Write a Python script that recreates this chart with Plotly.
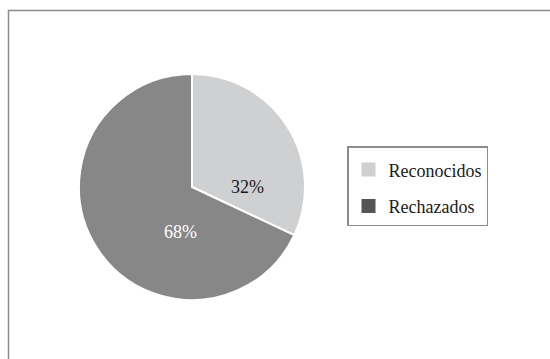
import plotly.graph_objects as go

# Share of claims by outcome
categories = ["Reconocidos", "Rechazados"]
shares = [32, 68]
slice_colors = ["#cfd0d2", "#878787"]
legend_colors = ["#cfd0d2", "#555555"]
label_colors = ["#1a1a1a", "#ffffff"]

W, H = 550, 359
serif = "Liberation Serif"

fig = go.Figure()

fig.add_trace(go.Pie(
    labels=categories,
    values=shares,
    sort=False,
    direction="clockwise",
    rotation=0,
    marker=dict(colors=slice_colors, line=dict(color="white", width=2)),
    textinfo="none",
    hoverinfo="label+percent",
    showlegend=False,
    domain=dict(x=[79 / W, 305 / W], y=[1 - 300 / H, 1 - 74 / H]),
))

# Legend entries with square swatches
for i, (name, col) in enumerate(zip(categories, legend_colors)):
    fig.add_trace(go.Scatter(
        x=[None], y=[None], mode="markers", name=name,
        legendgroup=f"g{i}",
        marker=dict(symbol="square", size=14, color=col),
    ))

# Percentage labels placed inside each slice
label_pos = [(247, 187), (162, 244)]
total = sum(shares)
for v, (px, py), c in zip(shares, label_pos, label_colors):
    fig.add_annotation(
        x=px / W, y=1 - py / H, xref="paper", yref="paper",
        text=f"{round(100 * v / total)}%", showarrow=False,
        font=dict(family=serif, size=18, color=c),
    )

# Frame around the chart area
fig.add_shape(type="rect", xref="paper", yref="paper",
              x0=8.5 / W, x1=1.05, y0=-0.05, y1=1 - 10.5 / H,
              line=dict(color="#8c8c8c", width=1.5), fillcolor="rgba(0,0,0,0)")

fig.update_layout(
    width=W, height=H,
    margin=dict(l=0, r=0, t=0, b=0),
    paper_bgcolor="white", plot_bgcolor="white",
    xaxis=dict(visible=False), yaxis=dict(visible=False),
    showlegend=True,
    legend=dict(
        x=347 / W, y=1 - 146 / H, xanchor="left", yanchor="top",
        bordercolor="#8c8c8c", borderwidth=1.5, bgcolor="white",
        font=dict(family=serif, size=18, color="#1a1a1a"),
        title=dict(text=" ", font=dict(size=3)),
        tracegroupgap=10, itemwidth=30,
    ),
    font=dict(family=serif),
)

fig.write_html("out.html")
